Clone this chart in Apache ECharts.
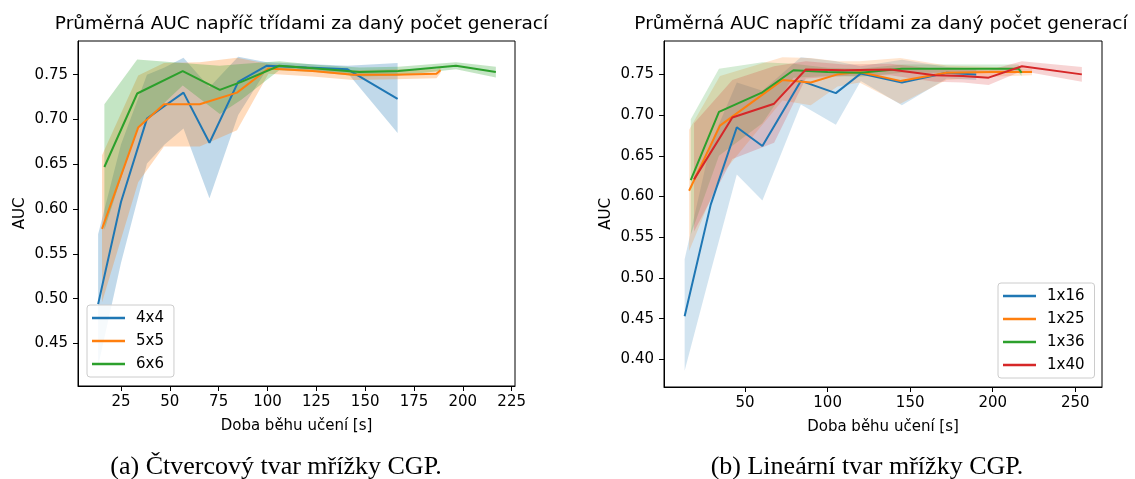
<!DOCTYPE html>
<html>
<head>
<meta charset="utf-8">
<script src="https://cdn.jsdelivr.net/npm/echarts@6/dist/echarts.min.js"></script>
<style>
  html, body { margin: 0; padding: 0; background: #fff; }
  #chart { width: 1135px; height: 479px; }
</style>
</head>
<body>
<div id="chart"></div>
<script>
// ---- (a) square CGP grids: mean AUC vs. training time, with spread band ----
const t44 = [13.3, 25.0, 38.3, 47.3, 57.0, 70.3, 85.0, 99.7, 120.0, 141.0, 166.6];
const auc44 = [0.494, 0.608, 0.701, 0.715, 0.730, 0.674, 0.742, 0.760, 0.758, 0.756, 0.723];
const lo44 = [0.425, 0.540, 0.651, 0.672, 0.690, 0.612, 0.705, 0.756, 0.754, 0.752, 0.685];
const hi44 = [0.572, 0.672, 0.750, 0.758, 0.769, 0.736, 0.770, 0.764, 0.762, 0.760, 0.763];

const t55 = [15.3, 33.8, 47.0, 65.3, 84.4, 100.5, 123.0, 144.0, 165.0, 186.5, 188.6];
const auc55 = [0.578, 0.691, 0.717, 0.717, 0.730, 0.757, 0.754, 0.750, 0.750, 0.751, 0.755];
const lo55 = [0.496, 0.630, 0.670, 0.670, 0.688, 0.751, 0.748, 0.744, 0.745, 0.746, 0.752];
const hi55 = [0.660, 0.749, 0.763, 0.764, 0.769, 0.762, 0.759, 0.755, 0.756, 0.756, 0.758];

const t66 = [16.5, 33.3, 56.6, 75.6, 86.6, 106.0, 125.0, 147.0, 167.0, 196.5, 216.9];
const auc66 = [0.647, 0.729, 0.754, 0.733, 0.742, 0.760, 0.757, 0.753, 0.754, 0.760, 0.753];
const lo66 = [0.577, 0.690, 0.738, 0.706, 0.722, 0.755, 0.753, 0.748, 0.749, 0.756, 0.747];
const hi66 = [0.717, 0.767, 0.763, 0.760, 0.762, 0.765, 0.761, 0.758, 0.759, 0.764, 0.759];

// ---- (b) linear CGP grids ----
const t16 = [13.4, 29.2, 45.0, 60.5, 83.8, 105.0, 120.1, 145.0, 172.2, 190.0];
const auc16 = [0.453, 0.590, 0.685, 0.662, 0.742, 0.727, 0.751, 0.740, 0.752, 0.750];
const lo16 = [0.386, 0.508, 0.627, 0.595, 0.713, 0.688, 0.742, 0.712, 0.745, 0.743];
const hi16 = [0.523, 0.665, 0.740, 0.730, 0.771, 0.766, 0.760, 0.768, 0.759, 0.757];

const t25 = [16.1, 34.8, 72.6, 89.8, 106.0, 119.3, 144.0, 172.0, 200.0, 223.8];
const auc25 = [0.607, 0.687, 0.743, 0.740, 0.750, 0.753, 0.742, 0.752, 0.753, 0.753];
const lo25 = [0.533, 0.625, 0.718, 0.712, 0.735, 0.740, 0.714, 0.743, 0.747, 0.749];
const hi25 = [0.682, 0.748, 0.771, 0.770, 0.766, 0.766, 0.770, 0.761, 0.759, 0.757];

const t36 = [17.1, 34.2, 60.5, 79.3, 100.0, 120.0, 145.0, 172.0, 200.0, 215.6, 217.5];
const auc36 = [0.620, 0.704, 0.728, 0.755, 0.753, 0.752, 0.757, 0.757, 0.757, 0.757, 0.752];
const lo36 = [0.553, 0.650, 0.690, 0.746, 0.748, 0.747, 0.752, 0.752, 0.752, 0.752, 0.748];
const hi36 = [0.695, 0.757, 0.765, 0.763, 0.758, 0.757, 0.762, 0.762, 0.762, 0.762, 0.756];

const t40 = [19.1, 42.3, 67.6, 86.8, 110.0, 138.0, 165.0, 182.0, 197.5, 217.7, 254.0];
const auc40 = [0.621, 0.697, 0.714, 0.756, 0.755, 0.756, 0.749, 0.748, 0.746, 0.760, 0.750];
const lo40 = [0.557, 0.646, 0.666, 0.745, 0.748, 0.749, 0.741, 0.740, 0.737, 0.754, 0.741];
const hi40 = [0.690, 0.743, 0.760, 0.766, 0.762, 0.763, 0.757, 0.756, 0.755, 0.766, 0.759];

// ---- tick labels and texts ----
const xTicksA = [25, 50, 75, 100, 125, 150, 175, 200, 225];
const xTicksB = [50, 100, 150, 200, 250];
const yTicksA = [0.45, 0.50, 0.55, 0.60, 0.65, 0.70, 0.75];
const yTicksB = [0.40, 0.45, 0.50, 0.55, 0.60, 0.65, 0.70, 0.75];
const titleText = 'Průměrná AUC napříč třídami za daný počet generací';
const xName = 'Doba běhu učení [s]';
const yName = 'AUC';
const captionA = '(a) Čtvercový tvar mřížky CGP.';
const captionB = '(b) Lineární tvar mřížky CGP.';

const C = ['#1f77b4', '#ff7f0e', '#2ca02c', '#d62728'];
const SANS = 'DejaVu Sans';
const FS = 15;

function zip(xs, ys) { return xs.map((x, i) => [x, ys[i]]); }

// Filled band between lo and hi, drawn as one polygon through the axis scales
function band(name, idx, xs, lo, hi, color, alpha) {
  const data = xs.map((x, i) => [x, lo[i], hi[i]]);
  return {
    type: 'custom', name: name, xAxisIndex: idx, yAxisIndex: idx, z: 1,
    silent: true, clip: true,
    encode: { x: 0, y: [1, 2] },
    data: data,
    renderItem: function (params, api) {
      if (params.dataIndex !== 0) return;
      const pts = [];
      for (let i = 0; i < xs.length; i++) pts.push(api.coord([xs[i], hi[i]]));
      for (let i = xs.length - 1; i >= 0; i--) pts.push(api.coord([xs[i], lo[i]]));
      return { type: 'polygon', shape: { points: pts }, style: { fill: color, opacity: alpha } };
    }
  };
}

function line(name, idx, xs, ys, color) {
  return {
    type: 'line', name: name, xAxisIndex: idx, yAxisIndex: idx, z: 3,
    data: zip(xs, ys), showSymbol: false, symbol: 'none', animation: false,
    lineStyle: { color: color, width: 2 }, itemStyle: { color: color }
  };
}

function xAxis(idx, min, max, ticks) {
  return {
    type: 'value', gridIndex: idx, min: min, max: max,
    name: xName, nameLocation: 'middle', nameGap: 33,
    nameTextStyle: { fontFamily: SANS, fontSize: FS, color: '#000' },
    axisLine: { show: true, onZero: false, lineStyle: { color: '#000', width: 1 } },
    axisTick: { show: true, length: 5, customValues: ticks, lineStyle: { color: '#000' } },
    axisLabel: { customValues: ticks, margin: 9, fontFamily: SANS, fontSize: FS, color: '#000',
                 formatter: v => String(Math.round(v)) },
    splitLine: { show: false }
  };
}

function yAxis(idx, min, max, ticks, gap) {
  return {
    type: 'value', gridIndex: idx, min: min, max: max,
    name: yName, nameLocation: 'middle', nameGap: gap, nameRotate: 90,
    nameTextStyle: { fontFamily: SANS, fontSize: FS, color: '#000' },
    axisLine: { show: true, onZero: false, lineStyle: { color: '#000', width: 1 } },
    axisTick: { show: true, length: 5, customValues: ticks, lineStyle: { color: '#000' } },
    axisLabel: { customValues: ticks, margin: 10, fontFamily: SANS, fontSize: FS, color: '#000',
                 formatter: v => v.toFixed(2) },
    splitLine: { show: false }
  };
}

function legend(names, left, top) {
  return {
    data: names, orient: 'vertical', left: left, top: top,
    icon: 'rect', itemWidth: 33, itemHeight: 2.5, itemGap: 7,
    padding: [5, 10, 5, 5],
    backgroundColor: 'rgba(255,255,255,0.85)', borderColor: '#cccccc', borderWidth: 1, borderRadius: 3,
    textStyle: { fontFamily: SANS, fontSize: FS, color: '#000', lineHeight: 16, padding: [0, 0, 0, 6] },
    selectedMode: false
  };
}

const chart = echarts.init(document.getElementById('chart'), null, { renderer: 'canvas' });
chart.setOption({
  animation: false,
  backgroundColor: '#fff',
  title: [
    { text: titleText, left: 296.5, top: 10, textAlign: 'center',
      textStyle: { fontFamily: SANS, fontSize: 18.5, fontWeight: 'normal', color: '#000' } },
    { text: titleText, left: 876, top: 10, textAlign: 'center',
      textStyle: { fontFamily: SANS, fontSize: 18.5, fontWeight: 'normal', color: '#000' } },
    { text: captionA, left: 271, top: 449, textAlign: 'center',
      textStyle: { fontFamily: 'Liberation Serif', fontSize: 26, fontWeight: 'normal', color: '#000' } },
    { text: captionB, left: 862, top: 449, textAlign: 'center',
      textStyle: { fontFamily: 'Liberation Serif', fontSize: 26, fontWeight: 'normal', color: '#000' } }
  ],
  grid: [
    { left: 78, top: 41, width: 437, height: 345, show: true, borderColor: '#000', borderWidth: 1, backgroundColor: 'transparent' },
    { left: 664, top: 41, width: 438, height: 346, show: true, borderColor: '#000', borderWidth: 1, backgroundColor: 'transparent' }
  ],
  xAxis: [ xAxis(0, 3, 226.7, xTicksA), xAxis(1, 0.9, 266.2, xTicksB) ],
  yAxis: [ yAxis(0, 0.4026, 0.7876, yTicksA, 50), yAxis(1, 0.366, 0.791, yTicksB, 50) ],
  legend: [
    legend(['4x4', '5x5', '6x6'], 87, 305),
    legend(['1x16', '1x25', '1x36', '1x40'], 998, 283)
  ],
  series: [
    band('b44', 0, t44, lo44, hi44, C[0], 0.28),
    line('4x4', 0, t44, auc44, C[0]),
    band('b55', 0, t55, lo55, hi55, C[1], 0.28),
    line('5x5', 0, t55, auc55, C[1]),
    band('b66', 0, t66, lo66, hi66, C[2], 0.28),
    line('6x6', 0, t66, auc66, C[2]),
    band('b16', 1, t16, lo16, hi16, C[0], 0.2),
    line('1x16', 1, t16, auc16, C[0]),
    band('b25', 1, t25, lo25, hi25, C[1], 0.2),
    line('1x25', 1, t25, auc25, C[1]),
    band('b36', 1, t36, lo36, hi36, C[2], 0.2),
    line('1x36', 1, t36, auc36, C[2]),
    band('b40', 1, t40, lo40, hi40, C[3], 0.2),
    line('1x40', 1, t40, auc40, C[3])
  ]
});
</script>
</body>
</html>
